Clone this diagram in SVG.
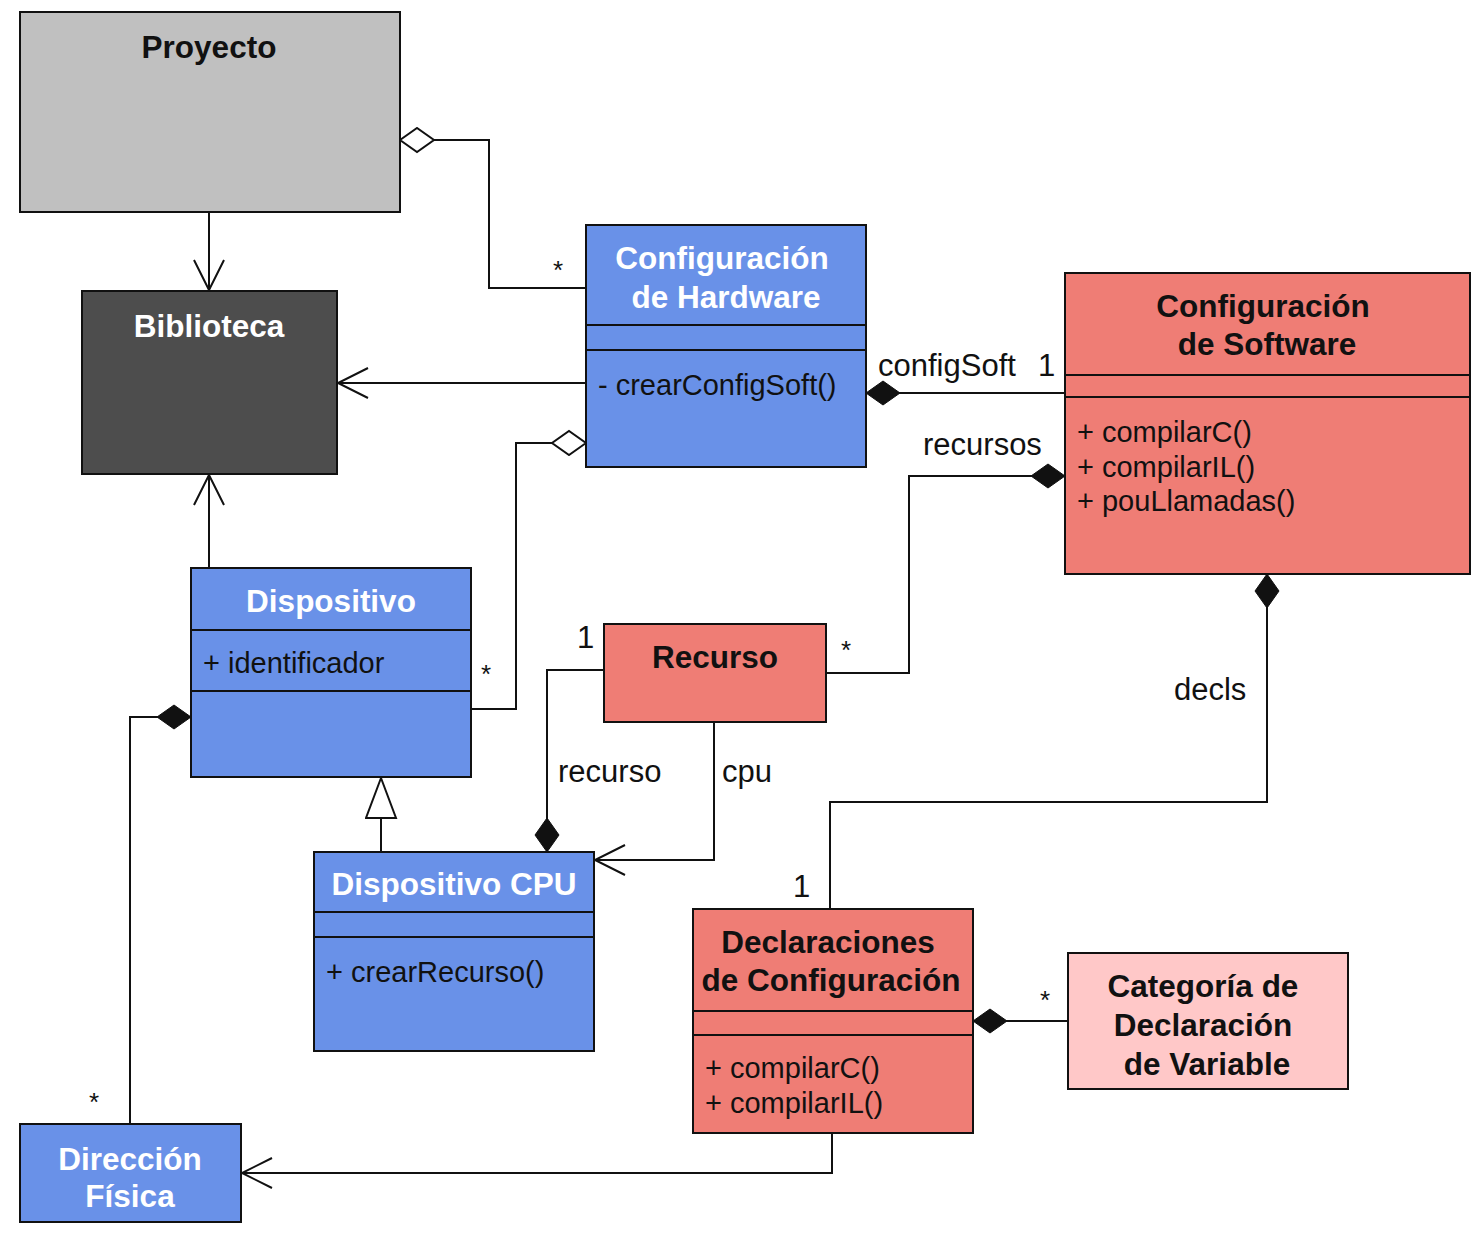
<svg xmlns="http://www.w3.org/2000/svg" width="1484" height="1237" viewBox="0 0 1484 1237">
<style>
.box{stroke:#111;stroke-width:2}
.blue{fill:#6991e8}
.red{fill:#ef7d75}
.pink{fill:#ffc8c8}
.gray{fill:#c0c0c0}
.dark{fill:#4d4d4d}
.sep{stroke:#111;stroke-width:2}
.t{font-family:"Liberation Sans",Arial,sans-serif;font-weight:bold;font-size:31.5px;text-anchor:middle}
.tw{fill:#ffffff}
.tb{fill:#111111}
.m{font-family:"Liberation Sans",Arial,sans-serif;font-size:29px;fill:#111}
.lbl{font-family:"Liberation Sans",Arial,sans-serif;font-size:31px;fill:#111}
.star{font-family:"Liberation Sans",Arial,sans-serif;font-size:26px;fill:#111}
.c{fill:none;stroke:#111;stroke-width:2}
</style>
<defs>
<marker id="arrow" markerUnits="userSpaceOnUse" markerWidth="34" markerHeight="34" refX="31" refY="16" orient="auto">
<path d="M1,1 L31,16 L1,31" fill="none" stroke="#111" stroke-width="2"/>
</marker>
<marker id="dfill" markerUnits="userSpaceOnUse" markerWidth="36" markerHeight="28" refX="1" refY="13" orient="auto">
<path d="M1,13 L18,1 L35,13 L18,25 Z" fill="#111" stroke="#111" stroke-width="1"/>
</marker>
<marker id="dhollow" markerUnits="userSpaceOnUse" markerWidth="38" markerHeight="28" refX="1" refY="13" orient="auto">
<path d="M1,13 L18,1 L35,13 L18,25 Z" fill="#ffffff" stroke="#111" stroke-width="2"/>
</marker>
<marker id="tri" markerUnits="userSpaceOnUse" markerWidth="44" markerHeight="34" refX="41" refY="16" orient="auto">
<path d="M41,16 L1,1 L1,31 Z" fill="#ffffff" stroke="#111" stroke-width="2"/>
</marker>
</defs>

<g id="connectors">
<path class="c" d="M209,212 V290" marker-end="url(#arrow)"/>
<path class="c" d="M400,140 H489 V288 H586" marker-start="url(#dhollow)"/>
<path class="c" d="M586,383 H338" marker-end="url(#arrow)"/>
<path class="c" d="M866,393 H1065" marker-start="url(#dfill)"/>
<path class="c" d="M586,443 H516 V709 H471" marker-start="url(#dhollow)"/>
<path class="c" d="M209,568 V475" marker-end="url(#arrow)"/>
<path class="c" d="M191,717 H130 V1124" marker-start="url(#dfill)"/>
<path class="c" d="M381,852 V778" marker-end="url(#tri)"/>
<path class="c" d="M547,852 V670 H604" marker-start="url(#dfill)"/>
<path class="c" d="M714,722 V860 H595" marker-end="url(#arrow)"/>
<path class="c" d="M1065,476 H909 V673 H826" marker-start="url(#dfill)"/>
<path class="c" d="M1267,574 V802 H830 V909" marker-start="url(#dfill)"/>
<path class="c" d="M832,1133 V1173 H242" marker-end="url(#arrow)"/>
<path class="c" d="M973,1021 H1068" marker-start="url(#dfill)"/>
<text class="star" x="553" y="279">*</text>
<text class="lbl" x="878" y="376">configSoft</text>
<text class="lbl" x="1038" y="376">1</text>
<text class="lbl" x="923" y="455">recursos</text>
<text class="star" x="481" y="683">*</text>
<text class="lbl" x="577" y="648">1</text>
<text class="star" x="841" y="659">*</text>
<text class="lbl" x="558" y="782">recurso</text>
<text class="lbl" x="722" y="782">cpu</text>
<text class="lbl" x="1174" y="700">decls</text>
<text class="lbl" x="793" y="897">1</text>
<text class="star" x="89" y="1111">*</text>
<text class="star" x="1040" y="1009">*</text>
</g>

<g id="proyecto">
<rect class="box gray" x="20" y="12" width="380" height="200"/>
<text class="t tb" x="209" y="58">Proyecto</text>
</g>

<g id="biblioteca">
<rect class="box dark" x="82" y="291" width="255" height="183"/>
<text class="t tw" x="209" y="337">Biblioteca</text>
</g>

<g id="config-hardware">
<rect class="box blue" x="586" y="225" width="280" height="242"/>
<line class="sep" x1="586" y1="325" x2="866" y2="325"/>
<line class="sep" x1="586" y1="350" x2="866" y2="350"/>
<text class="t tw" x="722" y="269">Configuración</text>
<text class="t tw" x="726" y="308">de Hardware</text>
<text class="m" x="598" y="395">- crearConfigSoft()</text>
</g>

<g id="config-software">
<rect class="box red" x="1065" y="273" width="405" height="301"/>
<line class="sep" x1="1065" y1="375" x2="1470" y2="375"/>
<line class="sep" x1="1065" y1="397" x2="1470" y2="397"/>
<text class="t tb" x="1263" y="317">Configuración</text>
<text class="t tb" x="1267" y="355">de Software</text>
<text class="m" x="1077" y="442">+ compilarC()</text>
<text class="m" x="1077" y="477">+ compilarIL()</text>
<text class="m" x="1077" y="511">+ pouLlamadas()</text>
</g>

<g id="dispositivo">
<rect class="box blue" x="191" y="568" width="280" height="209"/>
<line class="sep" x1="191" y1="630" x2="471" y2="630"/>
<line class="sep" x1="191" y1="691" x2="471" y2="691"/>
<text class="t tw" x="331" y="612">Dispositivo</text>
<text class="m" x="203" y="673">+ identificador</text>
</g>

<g id="recurso">
<rect class="box red" x="604" y="624" width="222" height="98"/>
<text class="t tb" x="715" y="668">Recurso</text>
</g>

<g id="dispositivo-cpu">
<rect class="box blue" x="314" y="852" width="280" height="199"/>
<line class="sep" x1="314" y1="912" x2="594" y2="912"/>
<line class="sep" x1="314" y1="937" x2="594" y2="937"/>
<text class="t tw" x="454" y="895">Dispositivo CPU</text>
<text class="m" x="326" y="982">+ crearRecurso()</text>
</g>

<g id="declaraciones">
<rect class="box red" x="693" y="909" width="280" height="224"/>
<line class="sep" x1="693" y1="1011" x2="973" y2="1011"/>
<line class="sep" x1="693" y1="1035" x2="973" y2="1035"/>
<text class="t tb" x="828" y="953">Declaraciones</text>
<text class="t tb" x="831" y="991">de Configuración</text>
<text class="m" x="705" y="1078">+ compilarC()</text>
<text class="m" x="705" y="1113">+ compilarIL()</text>
</g>

<g id="categoria">
<rect class="box pink" x="1068" y="953" width="280" height="136"/>
<text class="t tb" x="1203" y="997">Categoría de</text>
<text class="t tb" x="1203" y="1036">Declaración</text>
<text class="t tb" x="1207" y="1075">de Variable</text>
</g>

<g id="direccion-fisica">
<rect class="box blue" x="20" y="1124" width="221" height="98"/>
<text class="t tw" x="130" y="1170">Dirección</text>
<text class="t tw" x="130" y="1207">Física</text>
</g>
</svg>
